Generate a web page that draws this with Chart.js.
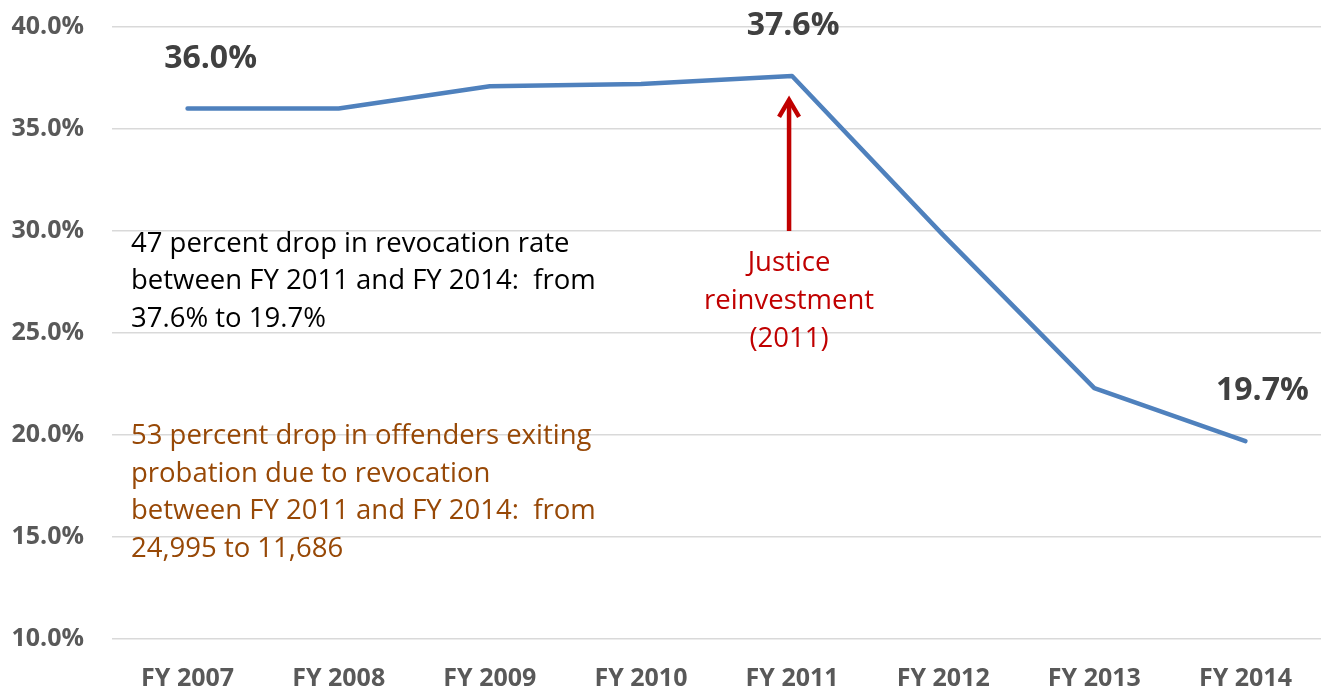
<!DOCTYPE html>
<html>
<head>
<meta charset="utf-8">
<script src="https://cdn.jsdelivr.net/npm/chart.js@4.4.1/dist/chart.umd.min.js"></script>
<style>
    html, body { margin: 0; padding: 0; background: #ffffff; }
    #wrap { width: 1321px; height: 689px; position: relative; }
</style>
</head>
<body>
<div id="wrap"><canvas id="revocationChart"></canvas></div>
<script>
// 数据
const years = ['FY 2007', 'FY 2008', 'FY 2009', 'FY 2010', 'FY 2011', 'FY 2012', 'FY 2013', 'FY 2014'];
const revocationRate = [36.0, 36.0, 37.1, 37.2, 37.6, 29.8, 22.3, 19.7];
const labelledPoints = [0, 4, 7];
const yTicks = [10, 15, 20, 25, 30, 35, 40];

// 注释文字
const rateNote = ['47 percent drop in revocation rate', 'between FY 2011 and FY 2014:  from', '37.6% to 19.7%'];
const exitNote = ['53 percent drop in offenders exiting', 'probation due to revocation', 'between FY 2011 and FY 2014:  from', '24,995 to 11,686'];
const reinvestNote = ['Justice', 'reinvestment', '(2011)'];

const FONT = '"Open Sans", "Noto Sans", sans-serif';

// 数据标签 + 箭头 + 文字
const annotationPlugin = {
    id: 'annotations',
    afterDatasetsDraw: function(chart) {
        const ctx = chart.ctx;
        const x = chart.scales.x;
        const y = chart.scales.y;
        const area = chart.chartArea;

        ctx.save();

        // 数据标签
        const offsets = { 0: 23, 4: 1, 7: 17 };
        ctx.font = 'bold 32px ' + FONT;
        ctx.fillStyle = '#404040';
        ctx.textAlign = 'center';
        ctx.textBaseline = 'middle';
        labelledPoints.forEach(function(i) {
            const px = x.getPixelForValue(i) + offsets[i];
            const py = y.getPixelForValue(revocationRate[i]) - 50;
            ctx.fillText(revocationRate[i].toFixed(1) + '%', px, py);
        });

        // 箭头
        const ax = x.getPixelForValue(4) - 3;
        const tip = y.getPixelForValue(revocationRate[4]) + 21;
        const base = y.getPixelForValue(30);
        ctx.strokeStyle = '#c00000';
        ctx.lineWidth = 4.5;
        ctx.lineCap = 'butt';
        ctx.beginPath();
        ctx.moveTo(ax, base);
        ctx.lineTo(ax, tip + 4);
        ctx.stroke();
        ctx.lineJoin = 'miter';
        ctx.beginPath();
        ctx.moveTo(ax - 10, tip + 20);
        ctx.lineTo(ax, tip + 3);
        ctx.lineTo(ax + 10, tip + 20);
        ctx.stroke();

        // Justice reinvestment
        ctx.font = '27.5px ' + FONT;
        ctx.fillStyle = '#c00000';
        reinvestNote.forEach(function(line, k) {
            ctx.fillText(line, ax, base + 32 + k * 38);
        });

        // 左侧说明
        ctx.textAlign = 'left';
        ctx.fillStyle = '#000000';
        rateNote.forEach(function(line, k) {
            ctx.fillText(line, area.left + 19, y.getPixelForValue(30) + 13 + k * 37.5);
        });
        ctx.fillStyle = '#974806';
        exitNote.forEach(function(line, k) {
            ctx.fillText(line, area.left + 19, y.getPixelForValue(20) + 1 + k * 37.7);
        });

        ctx.restore();
    }
};

document.addEventListener('DOMContentLoaded', function() {
    const el = document.getElementById('revocationChart');
    new Chart(el, {
        type: 'line',
        data: {
            labels: years,
            datasets: [{
                label: 'Revocation rate',
                data: revocationRate,
                borderColor: '#4f81bd',
                borderWidth: 4.5,
                borderCapStyle: 'round',
                borderJoinStyle: 'round',
                pointRadius: 0,
                tension: 0,
                fill: false
            }]
        },
        options: {
            responsive: true,
            maintainAspectRatio: false,
            animation: false,
            layout: {
                padding: { top: 27, right: 0, bottom: 0, left: 0 }
            },
            plugins: {
                legend: { display: false },
                tooltip: { enabled: false }
            },
            scales: {
                x: {
                    offset: true,
                    grid: { display: false, drawTicks: false },
                    border: { display: false },
                    afterFit: function(scale) {
                        scale.height = 50;
                    },
                    ticks: {
                        padding: 25,
                        color: '#595959',
                        font: { family: FONT, size: 25, weight: 'bold' }
                    }
                },
                y: {
                    min: yTicks[0],
                    max: yTicks[yTicks.length - 1],
                    afterBuildTicks: function(scale) {
                        scale.ticks = yTicks.map(function(v) { return { value: v }; });
                    },
                    afterFit: function(scale) {
                        scale.width = 112;
                        scale.paddingTop = 0;
                        scale.paddingBottom = 0;
                    },
                    grid: { color: '#d9d9d9', lineWidth: 1.5, drawTicks: false },
                    border: { display: false },
                    ticks: {
                        padding: 28,
                        color: '#595959',
                        font: { family: FONT, size: 25, weight: 'bold' },
                        callback: function(value) {
                            return value.toFixed(1) + '%';
                        }
                    }
                }
            }
        },
        plugins: [annotationPlugin]
    });
});
</script>
</body>
</html>
